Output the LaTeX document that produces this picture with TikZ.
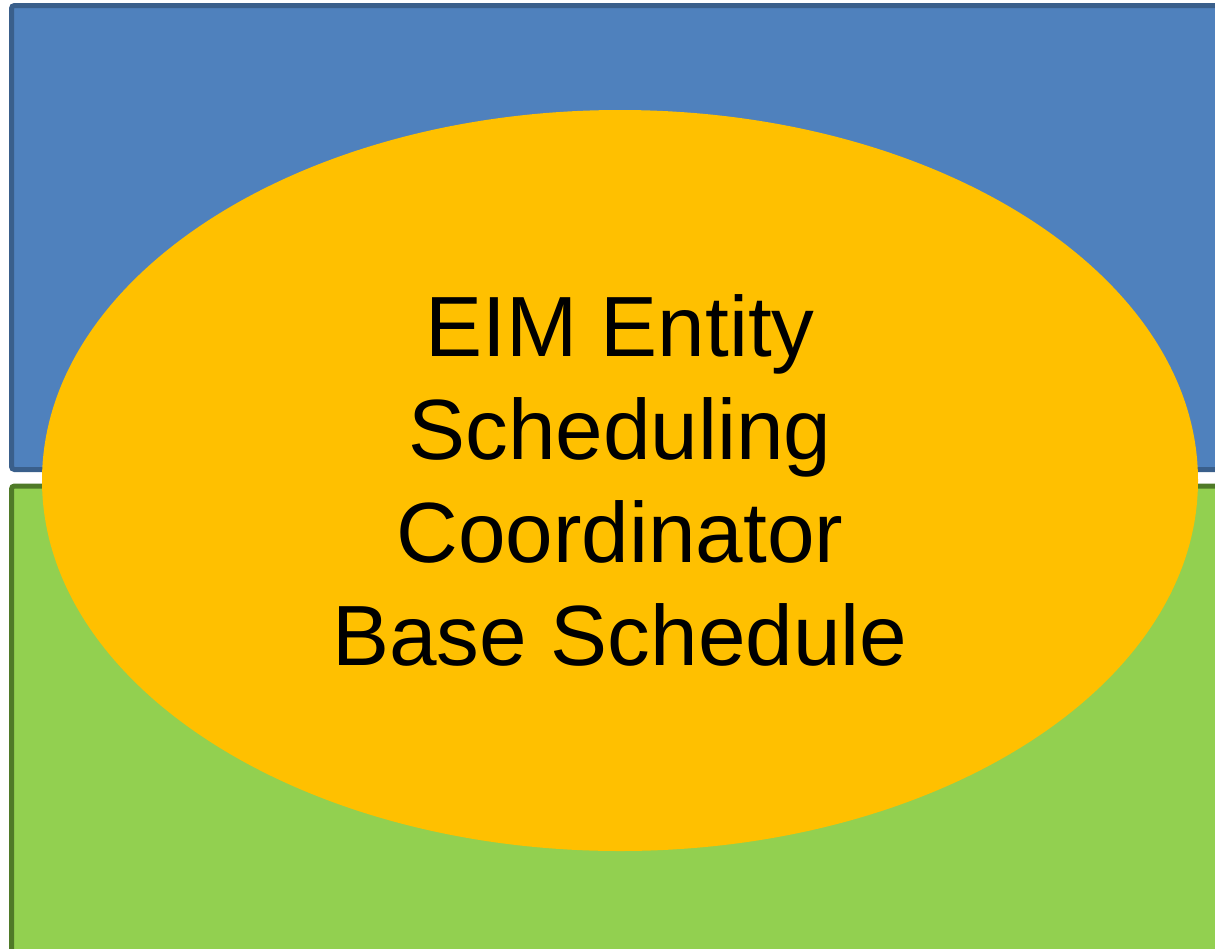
\documentclass[tikz,border=0pt]{standalone}
\usepackage{fontspec}
\setmainfont{Liberation Sans}
\usetikzlibrary{shapes.geometric}
\definecolor{boxblue}{HTML}{4F81BD}
\definecolor{boxblueline}{HTML}{3A5F8B}
\definecolor{boxgreen}{HTML}{92D050}
\definecolor{boxgreenline}{HTML}{4F7A28}
\definecolor{ovalorange}{HTML}{FFC000}
\begin{document}
\begin{tikzpicture}[x=1pt,y=-1pt]

        % Frame
        \useasboundingbox (0,0) rectangle (1215,948);
        \clip (0,0) rectangle (1215,948);

        % Boxes
        \node (upper) [draw=boxblueline, fill=boxblue, line width=5pt, rounded corners=3pt, anchor=north west, minimum width=1240pt, minimum height=464pt, inner sep=0pt] at (9,3) {};
        \node (lower) [draw=boxgreenline, fill=boxgreen, line width=5pt, rounded corners=3pt, anchor=north west, minimum width=1240pt, minimum height=466pt, inner sep=0pt] at (9,483.5) {};

        % Oval
        \node (sched) [ellipse, fill=ovalorange, minimum width=1156pt, minimum height=741pt, inner sep=0pt, align=center, font=\fontsize{85.5}{103}\selectfont] at (620,480.5) {EIM Entity\\Scheduling\\Coordinator\\Base Schedule};

    \end{tikzpicture}
\end{document}
